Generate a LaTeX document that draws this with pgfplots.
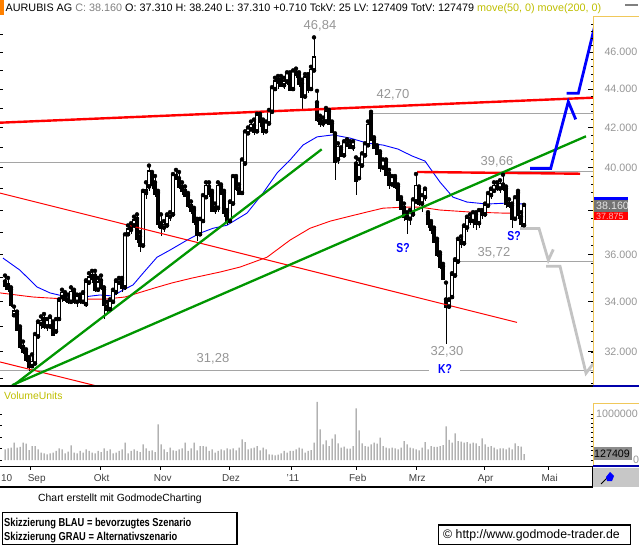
\documentclass[border=0pt]{standalone}
\usepackage{pgfplots}
\usepackage{pgfplotstable}
\pgfplotsset{compat=1.18}
\usepackage{fontspec}
\setmainfont{Liberation Sans}
\newcommand{\fsz}[1]{\fontsize{#1bp}{#1bp}\selectfont}
\definecolor{olivey}{RGB}{190,190,0}
\definecolor{tgreen}{RGB}{0,150,0}
\definecolor{lblgray}{RGB}{150,150,150}
\definecolor{hgray}{RGB}{165,165,165}
\definecolor{scgray}{RGB}{195,195,195}
\definecolor{axyellow}{RGB}{240,200,90}
\definecolor{darkblue}{RGB}{0,0,170}
\definecolor{volgray}{RGB}{135,135,135}
\begin{document}
% daily candles: bar index, open, high, low, close, volume (thousands)
\pgfplotstableread{
i o h l c v
0 34.85 35.10 34.50 34.70 232
1 34.70 35.00 34.40 34.55 254
2 34.50 34.60 33.80 33.90 268
3 33.45 33.80 33.40 33.60 377
4 33.50 33.60 32.80 32.90 268
5 32.90 33.00 32.10 32.20 283
6 32.20 32.40 31.90 32.00 377
7 32.00 32.10 31.60 31.70 355
8 31.70 31.80 31.28 31.45 217
9 31.45 31.90 31.40 31.60 304
10 31.55 32.70 31.50 32.60 304
11 32.60 33.20 32.50 33.10 232
12 33.10 33.40 32.90 33.20 159
13 33.30 33.50 32.90 33.00 145
14 33.00 33.30 32.80 33.20 123
15 33.00 33.40 32.90 33.30 145
16 33.10 33.20 32.60 32.70 159
17 32.80 33.30 32.70 33.20 196
18 33.30 34.10 33.20 34.00 254
19 34.20 34.50 34.00 34.35 232
20 34.30 34.40 34.00 34.10 145
21 34.10 34.30 33.90 34.00 181
22 34.00 34.60 33.90 34.40 319
23 34.40 34.50 33.90 34.00 159
24 34.00 34.30 33.80 34.20 145
25 34.20 34.30 33.90 34.00 196
26 34.00 34.40 33.90 34.30 159
27 33.90 34.90 33.80 34.80 232
28 34.80 35.20 34.70 35.00 196
29 35.00 35.30 34.80 35.10 159
30 35.10 35.30 34.40 34.50 145
31 34.50 35.00 34.40 34.80 196
32 34.90 35.10 34.50 34.60 174
33 34.50 34.60 33.30 33.90 254
34 33.80 34.00 33.50 33.70 196
35 33.70 34.10 33.60 34.00 232
36 34.00 34.50 33.90 34.40 145
37 34.40 34.90 34.30 34.80 159
38 34.80 35.00 34.70 34.90 196
39 34.90 35.00 34.40 34.60 232
40 34.60 36.90 34.50 36.80 377
41 36.90 37.30 36.80 37.10 145
42 37.10 37.40 36.90 37.20 196
43 37.30 37.70 37.20 37.50 232
44 37.60 37.80 36.50 36.70 196
45 36.80 37.00 36.10 36.40 174
46 36.40 38.90 36.30 38.80 341
47 38.80 39.30 38.50 38.90 254
48 39.10 40.10 38.90 39.80 196
49 39.70 39.80 39.00 39.20 210
50 39.30 39.60 38.60 38.80 174
51 38.80 38.90 37.20 37.40 775
52 37.40 37.80 36.80 37.20 341
53 37.20 37.50 37.00 37.30 232
54 37.30 37.80 37.20 37.70 174
55 37.70 37.90 37.50 37.80 268
56 37.80 39.70 37.70 39.60 210
57 39.60 39.90 39.40 39.50 196
58 39.50 39.80 39.00 39.10 232
59 39.10 39.30 38.70 38.90 254
60 38.90 39.10 38.60 38.70 377
61 38.70 38.80 38.10 38.20 196
62 38.20 38.40 37.80 38.00 254
63 38.00 38.10 37.30 37.50 377
64 37.50 37.60 36.60 36.90 210
65 36.90 37.60 36.80 37.50 304
66 37.50 38.70 37.40 38.60 304
67 38.60 39.30 38.50 39.10 290
68 39.10 39.30 38.60 38.80 196
69 38.80 38.90 37.90 38.00 232
70 38.00 38.30 37.80 38.10 159
71 38.10 39.30 37.90 39.10 196
72 39.10 39.20 38.70 38.80 232
73 38.80 38.90 37.70 37.90 210
74 37.90 38.00 37.30 37.50 254
75 37.50 38.40 37.40 38.30 232
76 38.30 39.60 38.20 39.50 254
77 39.50 39.60 38.90 39.00 210
78 39.00 39.20 38.70 38.80 268
79 38.80 40.40 38.70 40.30 449
80 40.20 41.80 40.10 41.70 391
81 41.70 42.00 41.60 41.90 232
82 41.90 42.30 41.80 42.10 254
83 42.10 42.40 41.60 41.80 268
84 41.80 42.70 41.70 42.60 304
85 42.60 42.70 42.00 42.30 210
86 42.30 42.40 41.60 41.80 268
87 41.80 42.30 41.70 42.20 232
88 42.20 42.90 42.10 42.80 123
89 42.80 44.10 42.70 44.00 116
90 44.00 44.60 43.90 44.40 101
91 44.40 44.70 44.00 44.50 116
92 44.50 44.70 44.10 44.20 145
93 44.20 44.60 44.00 44.40 196
94 44.40 44.90 44.20 44.80 159
95 44.80 44.90 43.90 44.00 196
96 44.00 45.00 43.90 44.90 196
97 44.90 45.10 44.60 44.80 232
98 44.80 44.90 44.10 44.30 268
99 44.30 44.50 42.90 43.60 246
100 43.60 44.80 43.50 44.60 159
101 44.60 44.80 43.80 44.00 196
102 44.00 45.20 43.90 45.00 217
103 45.00 46.84 44.90 45.70 377
104 43.30 43.90 42.30 42.40 1261
105 42.40 42.60 42.00 42.20 667
106 42.20 42.50 42.00 42.30 341
107 42.30 43.00 42.20 42.80 428
108 42.80 42.90 42.10 42.20 304
109 42.20 42.30 41.70 41.80 464
110 41.60 41.70 39.40 40.30 558
111 40.40 41.20 40.20 41.00 362
112 40.90 41.00 40.50 40.60 268
113 40.60 41.30 40.50 41.20 290
114 41.20 41.40 41.00 41.10 246
115 41.10 41.30 40.90 41.00 246
116 41.00 41.30 40.80 41.20 304
117 40.20 40.50 38.70 39.40 1123
118 39.50 40.40 39.40 40.10 645
119 40.10 40.70 40.00 40.60 362
120 40.60 41.20 40.50 41.10 304
121 41.10 42.30 41.00 42.10 290
122 42.70 42.80 41.30 41.40 341
123 41.40 41.50 40.90 41.00 377
124 41.00 41.10 40.60 40.70 355
125 40.70 40.80 39.80 40.00 486
126 40.00 40.40 39.90 40.30 304
127 40.30 40.40 39.60 39.70 268
128 39.70 39.90 39.00 39.20 254
129 39.20 39.60 39.10 39.50 268
130 39.50 39.60 39.00 39.10 254
131 39.10 39.20 38.40 38.50 232
132 38.50 38.60 38.00 38.10 268
133 38.10 38.30 37.50 37.70 413
134 37.70 37.90 36.90 37.60 341
135 37.60 38.00 37.30 37.80 268
136 37.80 38.50 37.70 38.40 254
137 38.40 39.70 38.30 39.10 232
138 39.00 39.10 38.20 38.30 210
139 38.30 38.70 37.90 38.60 268
140 38.60 39.00 38.40 38.90 391
141 37.80 37.90 37.20 37.40 232
142 37.40 37.50 36.90 37.10 304
143 37.10 37.20 36.50 36.60 283
144 36.60 36.70 35.90 36.00 283
145 36.00 36.10 35.40 35.50 304
146 35.50 35.60 34.90 35.00 326
147 34.10 34.80 32.30 33.80 732
148 33.80 34.10 33.70 34.00 435
149 34.20 35.20 34.10 35.10 377
150 35.10 35.80 35.00 35.70 580
151 35.70 36.70 35.60 36.60 413
152 36.60 36.80 36.30 36.50 399
153 36.50 37.30 36.40 37.20 377
154 37.20 37.70 37.00 37.60 391
155 37.60 37.80 37.30 37.50 355
156 37.50 37.90 37.20 37.80 377
157 37.80 37.90 37.10 37.40 362
158 37.40 38.00 37.20 37.90 304
159 37.90 38.00 37.60 37.80 471
160 37.80 38.30 37.70 38.20 341
161 38.20 38.80 38.10 38.70 283
162 38.70 39.00 38.50 38.90 304
163 38.90 39.30 38.80 39.10 268
164 39.10 39.30 38.90 39.00 232
165 39.00 39.40 38.80 39.20 254
166 39.20 39.66 38.90 39.00 254
167 39.00 39.10 38.10 38.30 232
168 38.30 38.50 38.10 38.20 268
169 38.20 38.30 37.20 37.60 232
170 37.60 38.60 37.50 38.50 362
171 38.80 38.90 37.60 37.80 304
172 37.70 37.90 37.20 37.40 290
173 37.31 38.24 37.31 38.16 127
}\ohlc
\begin{tikzpicture}
\useasboundingbox (0bp,0bp) rectangle (639bp,-546bp);

% ---------- price panel (log price: y is ln of the price) ----------
\begin{axis}[
  at={(0bp,-386bp)}, anchor=south west,
  scale only axis, width=593bp, height=369bp,
  xmin=0, xmax=593,
  ymin=3.42426, ymax=3.87141,
  axis line style={draw=none},
  xtick=\empty,
  ytick={3.465736,3.526361,3.583519,3.637586,3.688879,3.737670,3.784190,3.828641},
  yticklabels={32.000,34.000,36.000,,40.000,42.000,44.000,46.000},
  ytick pos=right, yticklabel pos=right,
  tick align=inside,
  major tick length=5bp,
  every tick/.style={black, line width=0.8bp},
  yticklabel style={text=lblgray, font=\fsz{10.7}, anchor=west, xshift=8bp},
]
% horizontal marks
\addplot[hgray, line width=1bp] table[y expr=ln(\thisrow{p}), row sep=\\] {x p\\ 0 40.26\\ 427 40.26\\};
\addplot[hgray, line width=1bp] table[y expr=ln(\thisrow{p}), row sep=\\] {x p\\ 370 42.72\\ 593 42.72\\};
\addplot[hgray, line width=1bp] table[y expr=ln(\thisrow{p}), row sep=\\] {x p\\ 503 39.84\\ 593 39.84\\};
\addplot[hgray, line width=1bp] table[y expr=ln(\thisrow{p}), row sep=\\] {x p\\ 455 35.72\\ 593 35.72\\};
\addplot[hgray, line width=1bp] table[y expr=ln(\thisrow{p}), row sep=\\] {x p\\ 0 31.28\\ 429 31.28\\};
\addplot[hgray, line width=1bp] table[y expr=ln(\thisrow{p}), row sep=\\] {x p\\ 460 31.28\\ 593 31.28\\};
% moving averages 50 and 200
\addplot[blue, line width=0.9bp] table[y expr=ln(\thisrow{p}), row sep=\\] {x p\\
3 35.85\\ 20 35.33\\ 37 34.62\\ 50 34.37\\ 63 34.24\\ 83 34.20\\ 100 34.28\\
113 34.24\\ 123 34.49\\ 133 34.70\\ 143 35.20\\ 157 35.89\\ 170 36.20\\
187 36.64\\ 200 36.95\\ 213 37.17\\ 227 37.31\\ 247 37.86\\ 263 38.79\\
277 39.74\\ 290 40.37\\ 303 41.11\\ 317 41.52\\ 333 41.62\\ 350 41.46\\
367 41.21\\ 383 41.11\\ 398 40.91\\ 412 40.57\\ 425 40.32\\ 440 39.31\\
453 38.60\\ 467 38.37\\ 487 38.28\\ 507 38.32\\ 524 38.28\\};
\addplot[red, line width=0.9bp] table[y expr=ln(\thisrow{p}), row sep=\\] {x p\\
0 34.37\\ 33 34.20\\ 67 34.11\\ 105 34.11\\ 125 34.20\\ 155 34.58\\ 172 34.79\\
192 34.99\\ 220 35.25\\ 240 35.46\\ 267 35.89\\ 290 36.64\\ 310 37.17\\
330 37.49\\ 350 37.72\\ 367 37.91\\ 383 38.09\\ 405 38.14\\ 420 38.14\\
440 38.00\\ 470 37.91\\ 503 37.86\\ 524 37.86\\};
% candles: wicks, bodies, hollow inside of rising candles
\addplot[only marks, mark=none, error bars/.cd, y dir=minus, y explicit,
  error mark=none, error bar style={black, line width=1bp}]
  table[x expr=5+3*\thisrow{i}, y expr=ln(\thisrow{h}),
        y error minus expr=ln(\thisrow{h})-ln(\thisrow{l})] \ohlc;
\addplot[only marks, mark=none, error bars/.cd, y dir=plus, y explicit,
  error mark=none, error bar style={black, line width=3.3bp, line cap=rect}]
  table[x expr=5+3*\thisrow{i}, y expr=ln(\thisrow{o}),
        y error plus expr=ln(\thisrow{c})-ln(\thisrow{o})] \ohlc;
\addplot[only marks, mark=none,
  restrict expr to domain={\thisrow{c}-\thisrow{o}}{0.0001:100},
  error bars/.cd, y dir=plus, y explicit,
  error mark=none, error bar style={white, line width=1.3bp}]
  table[x expr=5+3*\thisrow{i}, y expr=ln(\thisrow{o}),
        y error plus expr=ln(\thisrow{c})-ln(\thisrow{o})] \ohlc;
% trend lines
\addplot[red, line width=1bp] table[y expr=ln(\thisrow{p}), row sep=\\] {x p\\ 0 38.79\\ 517 33.16\\};
\addplot[red, line width=1bp] table[y expr=ln(\thisrow{p}), row sep=\\] {x p\\ 0 31.61\\ 97 30.70\\};
\addplot[red, line width=2.4bp] table[y expr=ln(\thisrow{p}), row sep=\\] {x p\\ 0 42.24\\ 593 43.54\\};
\addplot[red, line width=2.4bp] table[y expr=ln(\thisrow{p}), row sep=\\] {x p\\ 417 39.80\\ 580 39.71\\};
\addplot[tgreen, line width=2.3bp] table[y expr=ln(\thisrow{p}), row sep=\\] {x p\\ 12.6 30.70\\ 321.7 40.90\\};
\addplot[tgreen, line width=2.3bp] table[y expr=ln(\thisrow{p}), row sep=\\] {x p\\ 12 30.73\\ 586 41.55\\};
% scenarios
\addplot[blue, line width=2.8bp] table[y expr=ln(\thisrow{p}), row sep=\\] {x p\\ 530 39.97\\ 550.7 39.97\\ 568.3 43.33\\ 575.7 42.41\\};
\addplot[blue, line width=2.8bp] table[y expr=ln(\thisrow{p}), row sep=\\] {x p\\ 566.7 43.77\\ 578.3 43.77\\ 595 47.55\\};
\addplot[scgray, line width=2.8bp] table[y expr=ln(\thisrow{p}), row sep=\\] {x p\\ 520 37.16\\ 539 37.16\\ 548.3 35.76\\ 553.3 36.23\\};
\addplot[scgray, line width=2.8bp] table[y expr=ln(\thisrow{p}), row sep=\\] {x p\\ 546 35.50\\ 560 35.50\\ 586 31.18\\ 593.3 31.55\\};
\end{axis}

% ---------- volume panel ----------
\begin{axis}[
  at={(0bp,-466bp)}, anchor=south west,
  scale only axis, width=593bp, height=78bp,
  xmin=0, xmax=593, ymin=-130.4, ymax=1565.2,
  hide axis,
]
\addplot[ybar, bar width=1bp, fill=volgray, draw=none]
  table[x expr=5+3*\thisrow{i}, y=v] \ohlc;
\end{axis}

\begin{scope}[x=1bp, y=1bp]
% price ticks left (every 1) and minor ticks right (every 0.4)
\foreach \v in {31,...,47}
  \draw[black, line width=0.8bp] (0,{-386+825.23*(ln(\v)-3.42426)}) -- ++(3,0);
\foreach \v in {30.8,31.2,...,47.7}
  \draw[black, line width=0.8bp] (593,{-386+825.23*(ln(\v)-3.42426)}) -- ++(-2.5,0);

% ---------- frame pieces ----------
\fill[orange] (0,0) rectangle (4,-15);
\draw[gray, line width=1.5bp] (625,-5) -- (638,-5);
\node[anchor=base west, inner sep=0] at (5.5,-11.5) {\fsz{10.8}AURUBIS AG \textcolor{gray}{C: 38.160} O: 37.310 H: 38.240 L: 37.310 +0.710 TckV: 25 LV: 127409 TotV: 127479 \textcolor{olivey}{move(50, 0) move(200, 0)}};
\draw[axyellow, line width=1bp] (593.5,-16) -- (593.5,-385) (593.5,-16) -- (639,-16);
\draw[black, line width=2bp] (0,-386) -- (593,-386);
\draw[darkblue, line width=2bp] (593,-386) -- (639,-386);
% current value boxes (they hide the 38.000 tick label)
\fill[red] (594,-211) rectangle (628,-220);
\node[anchor=west, inner sep=0, text=red!30] at (596,-216.3) {\fsz{9}37.875};
\fill[blue] (594,-196.5) rectangle (628,-199.5);
\fill[black!55] (594,-199.5) rectangle (628,-211.5);
\node[anchor=west, inner sep=0, text=black!10] at (596,-205.5) {\fsz{10.7}38.160};

% price labels
\tikzset{lbl/.style={text=lblgray, inner sep=0, font=\fsz{13}}, sq/.style={text=blue, inner sep=0, font=\bfseries\fsz{13}}}
\node[lbl] at (320,-26) {46,84};
\node[lbl] at (393,-95) {42,70};
\node[lbl] at (497,-162) {39,66};
\node[lbl] at (494,-253) {35,72};
\node[lbl] at (447,-352) {32,30};
\node[lbl] at (213,-359) {31,28};
\node[sq] at (403,-248) {\scalebox{0.8}[1]{S?}};
\node[sq] at (514,-236) {\scalebox{0.8}[1]{S?}};
\node[sq] at (445,-369) {\scalebox{0.8}[1]{K?}};

% volume frame
\node[anchor=base west, inner sep=0, text=olivey] at (4,-399) {\fsz{10.4}VolumeUnits};
\foreach \yy in {460,448.5,437,425.5,414} \draw[black, line width=0.8bp] (0,-\yy) -- (2.5,-\yy);
\foreach \k in {0,...,10} \draw[black, line width=0.8bp] (590.5,{-460+4.6*\k}) -- (593,{-460+4.6*\k});
\draw[axyellow, line width=1bp] (593.5,-403) -- (593.5,-466) (593.5,-403) -- (639,-403);
\node[anchor=west, inner sep=0, text=lblgray] at (596,-414) {\fsz{10.7}1000000};
\node[anchor=west, inner sep=0, text=lblgray] at (633,-460) {\fsz{10.7}0};
\fill[black!45] (593.5,-447) rectangle (632,-460);
\node[anchor=west, inner sep=0] at (594,-453.5) {\fsz{10.7}127409};
\draw[darkblue, line width=2bp] (593,-466) -- (639,-466);

% date strip
\draw[black, line width=1.4bp] (0,-466.5) -- (592.5,-466.5) (0,-487) -- (592.5,-487) (592.5,-466) -- (592.5,-487.7);
\fill[black!22] (593.2,-467.5) rectangle (639,-487);
\draw[black, line width=0.9bp] (601,-484) -- (610,-475);
\fill[blue] (606,-477) -- (610,-472) -- (614,-476) -- (612,-481) -- (607,-481) -- cycle;
\foreach \xx/\lab in {6.7/10, 36.7/Sep, 101.7/Okt, 162.7/Nov, 231/Dez, 293/'11, 357.7/Feb, 417.3/Mrz, 485.7/Apr, 549.7/Mai}
  \node[anchor=base, inner sep=0, text=black!75] at (\xx,-481) {\fsz{10}\lab};
\foreach \xx in {30,100,160,229,291,356,416,484,548}
  \draw[black, line width=0.8bp] (\xx,-467) -- (\xx,-470);

% footer
\node[anchor=base west, inner sep=0] at (38,-501) {\fsz{10.4}Chart erstellt mit GodmodeCharting};
\draw[black, line width=1.2bp] (2.5,-512.5) rectangle (237,-544.5);
\node[anchor=base west, inner sep=0] at (4,-526) {\bfseries\fsz{11.5}\scalebox{0.81}[1]{Skizzierung BLAU = bevorzugtes Szenario}};
\node[anchor=base west, inner sep=0] at (4,-540) {\bfseries\fsz{11.5}\scalebox{0.81}[1]{Skizzierung GRAU = Alternativszenario}};
\draw[black, line width=1.2bp] (438.5,-525) rectangle (630.5,-544.5);
\node[anchor=base west, inner sep=0] at (443,-538.5) {\fsz{12.3}© http://www.godmode-trader.de};
\end{scope}
\end{tikzpicture}
\end{document}
